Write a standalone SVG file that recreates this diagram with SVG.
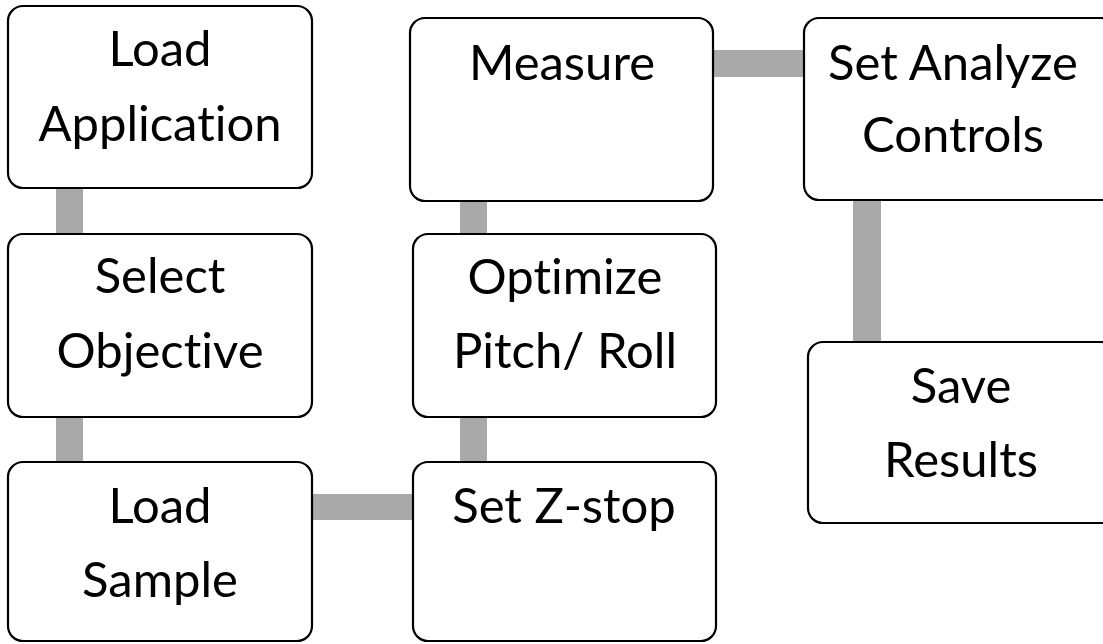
<svg xmlns="http://www.w3.org/2000/svg" width="1103" height="644" viewBox="0 0 1103 644">
  <style>
    .box { fill: #ffffff; stroke: #000000; stroke-width: 2.2; }
    .link { fill: #a9a9a9; }
    .label { font-family: Lato, "Liberation Sans", sans-serif; font-size: 49px; fill: #000000; text-anchor: middle; font-variant-ligatures: none; }
  </style>
  <rect width="1103" height="644" fill="#ffffff"/>

  <!-- connectors -->
  <g id="connectors">
    <rect class="link" x="56" y="186" width="27" height="51"/>
    <rect class="link" x="56" y="415" width="27" height="50"/>
    <rect class="link" x="310" y="494" width="105" height="26"/>
    <rect class="link" x="460" y="199" width="27" height="36"/>
    <rect class="link" x="460" y="415" width="27" height="49"/>
    <rect class="link" x="711" y="50" width="94" height="27"/>
    <rect class="link" x="853" y="198" width="28" height="146"/>
  </g>

  <g id="load-application">
    <rect class="box" x="8" y="6" width="304" height="182" rx="15"/>
    <text class="label" x="160" y="66">Load</text>
    <text class="label" x="160" y="141">Application</text>
  </g>

  <g id="select-objective">
    <rect class="box" x="8" y="234" width="304" height="183" rx="15"/>
    <text class="label" x="160" y="293">Select</text>
    <text class="label" x="160" y="368">Objective</text>
  </g>

  <g id="load-sample">
    <rect class="box" x="8" y="462" width="304" height="179" rx="15"/>
    <text class="label" x="160" y="523">Load</text>
    <text class="label" x="160" y="597">Sample</text>
  </g>

  <g id="measure">
    <rect class="box" x="410" y="18" width="303" height="183" rx="15"/>
    <text class="label" x="562" y="80">Measure</text>
  </g>

  <g id="optimize-pitch-roll">
    <rect class="box" x="413" y="234" width="303" height="183" rx="15"/>
    <text class="label" x="565" y="294">Optimize</text>
    <text class="label" x="565" y="368">Pitch/ Roll</text>
  </g>

  <g id="set-z-stop">
    <rect class="box" x="413" y="462" width="303" height="179" rx="15"/>
    <text class="label" x="564" y="523">Set Z-stop</text>
  </g>

  <g id="set-analyze-controls">
    <rect class="box" x="804" y="18" width="312" height="182" rx="15"/>
    <text class="label" x="953" y="80">Set Analyze</text>
    <text class="label" x="953" y="152">Controls</text>
  </g>

  <g id="save-results">
    <rect class="box" x="808" y="342" width="308" height="181" rx="15"/>
    <text class="label" x="961" y="403">Save</text>
    <text class="label" x="961" y="477">Results</text>
  </g>
</svg>
